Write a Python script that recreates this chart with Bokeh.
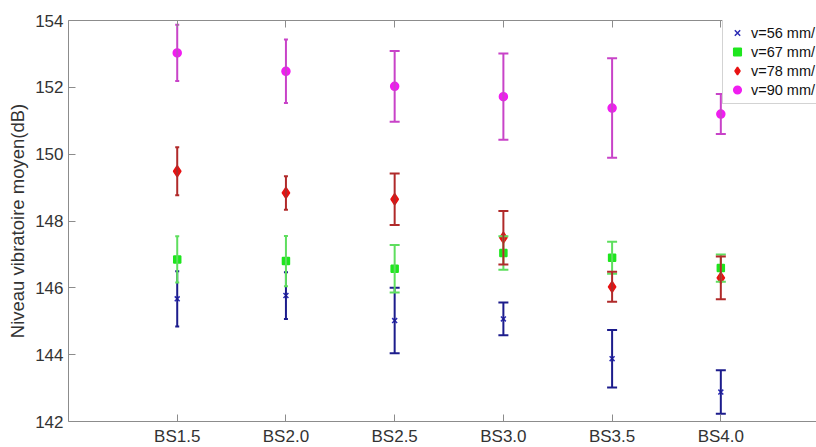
from bokeh.plotting import figure
from bokeh.models import (ColumnDataSource, Whisker, FixedTicker, LinearAxis,
                          Legend, LegendItem, Range1d, TeeHead)
from bokeh.embed import file_html
from bokeh.resources import INLINE

# ---- data -------------------------------------------------------------
categories = ["BS1.5", "BS2.0", "BS2.5", "BS3.0", "BS3.5", "BS4.0"]
series_labels = ["v=56 mm/", "v=67 mm/", "v=78 mm/", "v=90 mm/"]

v56 = [145.67, 145.77, 145.02, 145.07, 143.88, 142.88]
v56_err = [0.83, 0.70, 0.98, 0.49, 0.86, 0.65]
v67 = [146.85, 146.80, 146.57, 147.04, 146.90, 146.59]
v67_err = [0.69, 0.75, 0.71, 0.50, 0.48, 0.41]
v78 = [149.49, 148.84, 148.65, 147.50, 146.03, 146.30]
v78_err = [0.72, 0.50, 0.77, 0.80, 0.45, 0.64]
v90 = [153.03, 152.48, 152.03, 151.72, 151.38, 151.20]
v90_err = [0.84, 0.95, 1.06, 1.29, 1.49, 0.60]

y_ticks = [142, 144, 146, 148, 150, 152, 154]

# ---- styles -----------------------------------------------------------
FONT = "Liberation Sans"
AX = "#8c8c8c"
TXT = "#333333"
styles = [
    dict(marker="x", size=7, fill="#2a2ab4", line="#2a2ab4", bar="#1c1c8c"),
    dict(marker="square", size=7, fill="#1ee61e", line="#1ee61e", bar="#5ede5e"),
    dict(marker="diamond", size=11, fill="#e81212", line="#e81212", bar="#b02a2a"),
    dict(marker="circle", size=8, fill="#f01ef0", line="#f01ef0", bar="#c843c8"),
]
small_cap = 4
large_cap = 10

x = [i + 1 for i in range(len(categories))]

p = figure(frame_width=748, frame_height=401, output_backend="svg",
           toolbar_location=None, x_range=Range1d(0, 6.88),
           y_range=Range1d(142, 154),
           min_border_left=68, min_border_top=20, min_border_right=0,
           min_border_bottom=26)
p.outline_line_color = None
p.xgrid.visible = False
p.ygrid.visible = False
p.background_fill_color = "white"
p.border_fill_color = "white"

def style_axis(ax, size):
    ax.axis_line_color = AX
    ax.major_tick_line_color = AX
    ax.minor_tick_line_color = None
    ax.major_tick_in = 7
    ax.major_tick_out = 0
    ax.major_label_text_font = FONT
    ax.major_label_text_font_size = size
    ax.major_label_text_color = TXT

p.xaxis.ticker = FixedTicker(ticks=x)
p.xaxis.major_label_overrides = {xi: c for xi, c in zip(x, categories)}
style_axis(p.xaxis[0], "17px")
p.xaxis.major_label_standoff = 5

p.yaxis.ticker = FixedTicker(ticks=y_ticks)
style_axis(p.yaxis[0], "17px")
p.yaxis.major_label_standoff = 5
p.yaxis.axis_label = "Niveau vibratoire moyen(dB)"
p.yaxis.axis_label_text_font = FONT
p.yaxis.axis_label_text_font_size = "18.5px"
p.yaxis.axis_label_text_font_style = "normal"
p.yaxis.axis_label_text_color = TXT
p.yaxis.axis_label_standoff = 4

top = LinearAxis(ticker=FixedTicker(ticks=x))
style_axis(top, "0px")
top.major_label_standoff = 0
top.major_label_text_alpha = 0
p.add_layout(top, "above")

series = [(v56, v56_err), (v67, v67_err), (v78, v78_err), (v90, v90_err)]
items = []
for (vals, errs), st, lab in zip(series, styles, series_labels):
    up = [v + e for v, e in zip(vals, errs)]
    lo = [v - e for v, e in zip(vals, errs)]
    for idx, cap in (([0, 1], small_cap), ([2, 3, 4, 5], large_cap)):
        src = ColumnDataSource(dict(x=[x[i] for i in idx],
                                    upper=[up[i] for i in idx],
                                    lower=[lo[i] for i in idx]))
        w = Whisker(base="x", upper="upper", lower="lower", source=src,
                    dimension="height", line_color=st["bar"], line_width=2,
                    upper_head=TeeHead(size=cap, line_color=st["bar"], line_width=2),
                    lower_head=TeeHead(size=cap, line_color=st["bar"], line_width=2),
                    level="glyph")
        p.add_layout(w)
    msrc = ColumnDataSource(dict(x=x, y=vals))
    r = p.scatter("x", "y", source=msrc, marker=st["marker"], size=st["size"],
                  fill_color=st["fill"], line_color=st["line"], line_width=1.5)
    items.append(LegendItem(label=lab, renderers=[r]))

legend = Legend(items=items, location=(654, 317), margin=0, padding=4,
                spacing=0, glyph_width=20, glyph_height=19, label_height=19,
                label_standoff=4, label_width=200,
                label_text_font=FONT, label_text_font_size="14.5px",
                label_text_color="#111111",
                border_line_color="#a8a8a8", border_line_width=1,
                background_fill_color="white", background_fill_alpha=1)
p.add_layout(legend)

open("out.html", "w").write(file_html(p, INLINE))
